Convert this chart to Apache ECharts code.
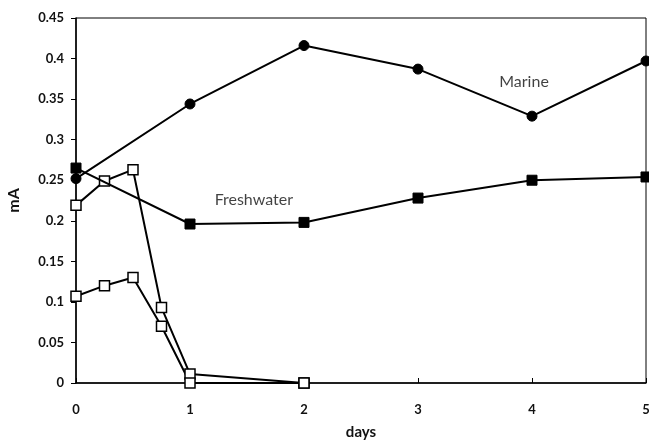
<!DOCTYPE html>
<html><head><meta charset="utf-8">
<script src="https://cdn.jsdelivr.net/npm/echarts@6/dist/echarts.min.js"></script>
<style>html,body{margin:0;padding:0;background:#fff}#c{width:649px;height:445px}</style>
</head><body><div id="c"></div>
<script>
const marineDays = [0, 1, 2, 3, 4, 5];
const marineVals = [0.252, 0.344, 0.416, 0.387, 0.329, 0.397];
const freshDays = [0, 1, 2, 3, 4, 5];
const freshVals = [0.265, 0.196, 0.198, 0.228, 0.250, 0.254];
const openADays = [0, 0.25, 0.5, 0.75, 1, 2];
const openAVals = [0.219, 0.249, 0.263, 0.093, 0.011, 0];
const openBDays = [0, 0.25, 0.5, 0.75, 1, 2];
const openBVals = [0.107, 0.120, 0.130, 0.070, 0, 0];
const annotations = [
  { name: 'Marine', x: 3.93, y: 0.371 },
  { name: 'Freshwater', x: 1.56, y: 0.226 }
];
const yTicks = { min: 0, max: 0.45, step: 0.05 };
const xTicks = { min: 0, max: 5, step: 1 };

const zip = (xs, ys) => xs.map((x, i) => [x, ys[i]]);
const font = 'Lato, "Open Sans", sans-serif';
const lineStyle = { color: '#000', width: 2 };

const chart = echarts.init(document.getElementById('c'));
chart.setOption({
  animation: false,
  grid: { left: 76, right: 3, top: 18, bottom: 62, show: true, borderColor: '#000', borderWidth: 1,
          containLabel: false, outerBoundsMode: 'none' },
  xAxis: {
    type: 'value', min: xTicks.min, max: xTicks.max, interval: xTicks.step,
    name: 'days', nameLocation: 'middle', nameGap: 42,
    nameTextStyle: { fontFamily: font, fontWeight: 'bold', fontSize: 15, color: '#111' },
    axisLine: { lineStyle: { color: '#000', width: 1.5 } },
    axisTick: { inside: true, length: 5, lineStyle: { color: '#000' } },
    axisLabel: { fontFamily: font, fontWeight: 'bold', fontSize: 13, color: '#111', margin: 20 },
    splitLine: { show: false }
  },
  yAxis: {
    type: 'value', min: yTicks.min, max: yTicks.max, interval: yTicks.step,
    name: 'mA', nameLocation: 'middle', nameGap: 54, nameRotate: 90,
    nameTextStyle: { fontFamily: font, fontWeight: 'bold', fontSize: 16, color: '#111' },
    axisLine: { lineStyle: { color: '#000', width: 1.5 } },
    axisTick: { inside: false, length: 5, lineStyle: { color: '#000' } },
    axisLabel: { fontFamily: font, fontWeight: 'bold', fontSize: 13, color: '#111', margin: 12 },
    splitLine: { show: false }
  },
  series: [
    { type: 'line', data: zip(openADays, openAVals), symbol: 'rect', symbolSize: 10,
      itemStyle: { color: '#fff', borderColor: '#000', borderWidth: 1.5 }, lineStyle, z: 2 },
    { type: 'line', data: zip(openBDays, openBVals), symbol: 'rect', symbolSize: 10,
      itemStyle: { color: '#fff', borderColor: '#000', borderWidth: 1.5 }, lineStyle, z: 2 },
    { type: 'line', data: zip(freshDays, freshVals), symbol: 'rect', symbolSize: 10,
      itemStyle: { color: '#000', borderColor: '#000' }, lineStyle, z: 3 },
    { type: 'line', data: zip(marineDays, marineVals), symbol: 'circle', symbolSize: 10,
      itemStyle: { color: '#000', borderColor: '#000' }, lineStyle, z: 3 },
    { type: 'scatter', data: annotations.map(a => ({ name: a.name, value: [a.x, a.y] })),
      symbolSize: 0, silent: true,
      label: { show: true, position: 'inside', formatter: p => p.name,
        fontFamily: font, fontSize: 16, color: '#111' } }
  ]
});
</script></body></html>
